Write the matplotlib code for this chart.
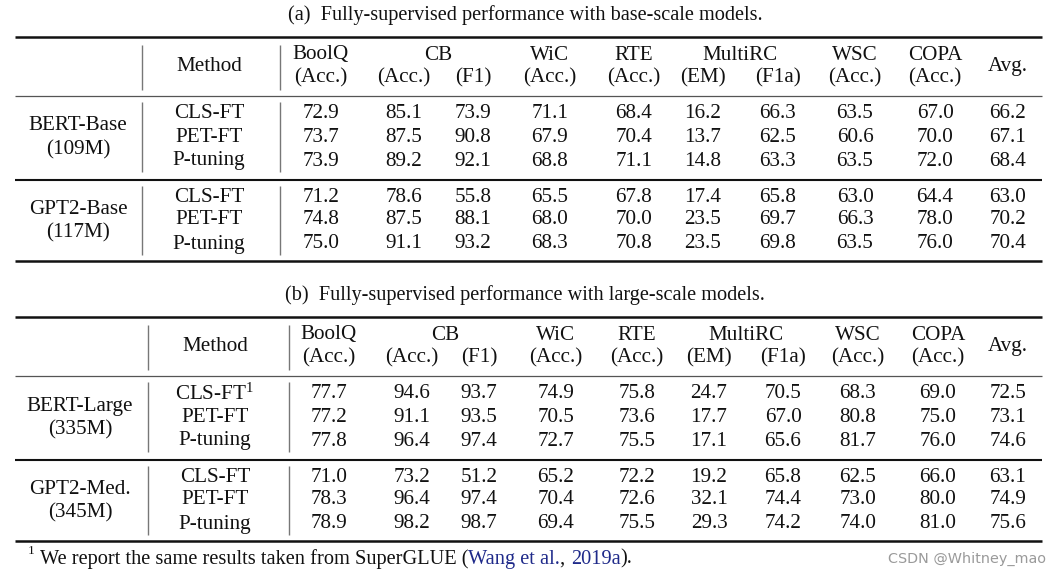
import matplotlib
matplotlib.use("Agg")
import matplotlib.pyplot as plt

plt.rcParams["mathtext.fontset"] = "custom"
plt.rcParams["mathtext.rm"] = "Liberation Serif"
plt.rcParams["mathtext.it"] = "Liberation Serif:italic"
plt.rcParams["mathtext.bf"] = "Liberation Serif:bold"

# ---------------- data ----------------
titles = ["(a)  Fully-supervised performance with base-scale models.",
          "(b)  Fully-supervised performance with large-scale models."]
tasks = ["BoolQ", "CB", "WiC", "RTE", "MultiRC", "WSC", "COPA"]
metrics = ["(Acc.)", "(Acc.)", "(F1)", "(Acc.)", "(Acc.)", "(EM)", "(F1a)", "(Acc.)", "(Acc.)"]
methods = ["CLS-FT", "PET-FT", "P-tuning"]

models_a = [("BERT-Base", "(109M)"), ("GPT2-Base", "(117M)")]
models_b = [("BERT-Large", "(335M)"), ("GPT2-Med.", "(345M)")]

bert_base = [[72.9, 85.1, 73.9, 71.1, 68.4, 16.2, 66.3, 63.5, 67.0, 66.2],
             [73.7, 87.5, 90.8, 67.9, 70.4, 13.7, 62.5, 60.6, 70.0, 67.1],
             [73.9, 89.2, 92.1, 68.8, 71.1, 14.8, 63.3, 63.5, 72.0, 68.4]]
gpt2_base = [[71.2, 78.6, 55.8, 65.5, 67.8, 17.4, 65.8, 63.0, 64.4, 63.0],
             [74.8, 87.5, 88.1, 68.0, 70.0, 23.5, 69.7, 66.3, 78.0, 70.2],
             [75.0, 91.1, 93.2, 68.3, 70.8, 23.5, 69.8, 63.5, 76.0, 70.4]]
bert_large = [[77.7, 94.6, 93.7, 74.9, 75.8, 24.7, 70.5, 68.3, 69.0, 72.5],
              [77.2, 91.1, 93.5, 70.5, 73.6, 17.7, 67.0, 80.8, 75.0, 73.1],
              [77.8, 96.4, 97.4, 72.7, 75.5, 17.1, 65.6, 81.7, 76.0, 74.6]]
gpt2_med = [[71.0, 73.2, 51.2, 65.2, 72.2, 19.2, 65.8, 62.5, 66.0, 63.1],
            [78.3, 96.4, 97.4, 70.4, 72.6, 32.1, 74.4, 73.0, 80.0, 74.9],
            [78.9, 98.2, 98.7, 69.4, 75.5, 29.3, 74.2, 74.0, 81.0, 75.6]]

footnote_parts = ["We report the same results taken from SuperGLUE (", "Wang et al.", ", ", "2019a", ")."]
watermark = "CSDN @Whitney_mao"

# ---------------- layout ----------------
W, H = 1063, 579
fig = plt.figure(figsize=(W / 100, H / 100), dpi=100)
ax = fig.add_axes([0, 0, 1, 1])
ax.set_xlim(0, W)
ax.set_ylim(H, 0)
ax.axis("off")

FONT = "Liberation Serif"
FS = 15.2
BLACK = "#111111"
GRAY = "#777777"
XL, XR = 15, 1042


def t(x, y, s, **kw):
    kw.setdefault("ha", "center")
    kw.setdefault("va", "center")
    kw.setdefault("fontsize", FS)
    kw.setdefault("family", FONT)
    kw.setdefault("color", BLACK)
    return ax.text(x, y, s, **kw)


def draw_table(y0, title, models, groups, xcols, xmethod, xmodel, vlines, superscript=False):
    t(525, y0, title, fontsize=14.6)
    top = y0 + 22
    h1, h2 = top + 18, top + 41
    mid1 = top + 59
    rows1 = [mid1 + 18, mid1 + 41, mid1 + 65]
    mid2 = mid1 + 84
    rows2 = [mid2 + 18, mid2 + 40, mid2 + 64]
    bot = mid2 + 81

    ax.hlines([top, bot], XL, XR, color=BLACK, lw=1.8)
    ax.hlines([mid1], XL, XR, color="#555555", lw=0.9)
    ax.hlines([mid2], XL, XR, color=BLACK, lw=1.5)
    for vx in vlines:
        ax.vlines(vx, top + 8, mid1 - 6, color=GRAY, lw=1.0)
        ax.vlines(vx, mid1 + 6, mid2 - 8, color=GRAY, lw=1.0)
        ax.vlines(vx, mid2 + 6, bot - 6, color=GRAY, lw=1.0)

    # header
    t(xmethod, (h1 + h2) / 2, "Method")
    task_x = [xcols[0], (xcols[1] + xcols[2]) / 2, xcols[3], xcols[4],
              (xcols[5] + xcols[6]) / 2, xcols[7], xcols[8]]
    for name, x in zip(tasks, task_x):
        t(x, h1, name)
    for m, x in zip(metrics, xcols[:9]):
        t(x, h2, m)
    t(xcols[9], (h1 + h2) / 2, "Avg.")

    for gi, ((mname, msize), data, rows) in enumerate(zip(models, groups, [rows1, rows2])):
        t(xmodel, (rows[0] + rows[1]) / 2 + 0.5, mname)
        t(xmodel, (rows[1] + rows[2]) / 2 + 0.5, msize)
        for i, (meth, vals, y) in enumerate(zip(methods, data, rows)):
            if superscript and i == 0 and gi == 0:
                t(xmethod, y, meth + r"$^{1}$")
            else:
                t(xmethod, y, meth)
            for v, x in zip(vals, xcols):
                t(x, y, f"{v:.1f}")
    return bot


xa = [321, 404, 473, 550, 634, 703, 778, 855, 935, 1008]
xb = [329, 412, 479, 556, 637, 709, 783, 858, 938, 1008]

draw_table(15, titles[0], models_a, [bert_base, gpt2_base], xa, 209, 78, [142, 280])
draw_table(295, titles[1], models_b, [bert_large, gpt2_med], xb, 215, 80, [148, 289], superscript=True)

# footnote
FFS = 14.7
ax.text(28, 551, "1", fontsize=9.5, family=FONT, color=BLACK, ha="left", va="center")
prev = ax.text(40, 559, footnote_parts[0], fontsize=FFS, family=FONT, color=BLACK, ha="left", va="center")
colors = ["#1f2a8a", BLACK, "#1f2a8a", BLACK]
for part, c in zip(footnote_parts[1:], colors):
    prev = ax.annotate(part, xy=(1, 0), xycoords=prev, ha="left", va="bottom",
                       fontsize=FFS, family=FONT, color=c)

ax.text(1046, 559, watermark, fontsize=10.4, family="DejaVu Sans", color="#9a9a9a", ha="right", va="center")

fig.savefig("out.png", dpi=100, facecolor="white")
